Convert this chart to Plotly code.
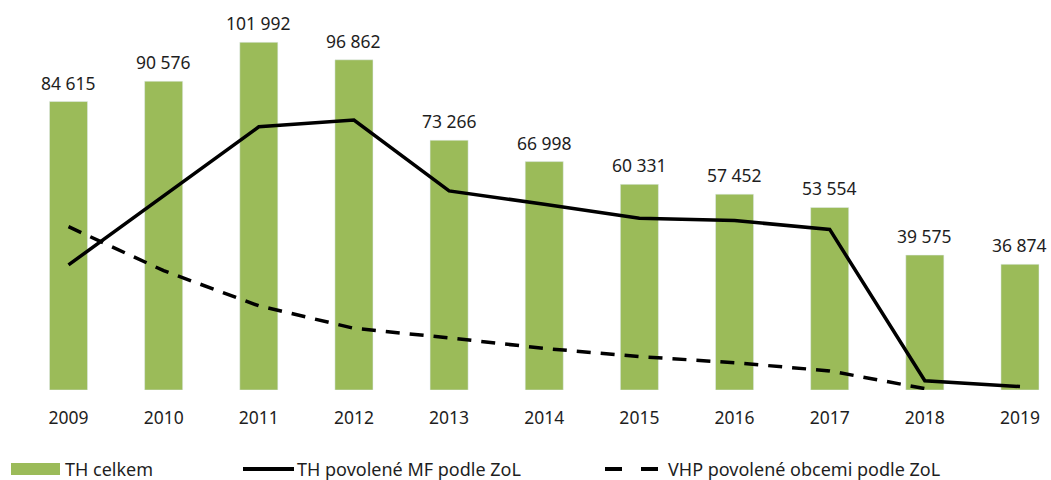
import plotly.graph_objects as go

years = ["2009", "2010", "2011", "2012", "2013", "2014", "2015", "2016", "2017", "2018", "2019"]
th_celkem = [84615, 90576, 101992, 96862, 73266, 66998, 60331, 57452, 53554, 39575, 36874]
th_mf = [36700, 56900, 77200, 79200, 58400, 54500, 50400, 49700, 47100, 2700, 1000]
vhp_obce = [47900, 35000, 24700, 18100, 15300, 12200, 9800, 8000, 5600, 400, None]

legend_names = ["TH celkem", "TH povolené MF podle ZoL", "VHP povolené obcemi podle ZoL"]

W, H = 1051, 480
MB = 90
PH = H - MB
FONT = "Noto Sans"
TXT = "#1e1e1e"
GREEN = "#9BBB59"

fig = go.Figure()
fig.add_trace(go.Bar(x=years, y=th_celkem, name=legend_names[0], marker_color=GREEN,
                     width=0.4, showlegend=False, hoverinfo="x+y"))
fig.add_trace(go.Scatter(x=years, y=th_mf, name=legend_names[1], mode="lines",
                         line=dict(color="black", width=3.5), showlegend=False))
fig.add_trace(go.Scatter(x=years, y=vhp_obce, name=legend_names[2], mode="lines",
                         line=dict(color="black", width=3.5, dash="14px,10px"), showlegend=False))

annotations = []
for i, v in enumerate(th_celkem):
    annotations.append(dict(x=i, y=v, xref="x", yref="y", text=f"{v:,}".replace(",", " "),
                            showarrow=False, yanchor="middle", yshift=19,
                            font=dict(family=FONT, size=17.5, color=TXT)))

def px(xp):
    return xp / W

def py(yp):
    return (PH - yp) / PH

shapes = [
    dict(type="rect", xref="paper", yref="paper", x0=px(11), x1=px(60), y0=py(475), y1=py(463),
         fillcolor=GREEN, line=dict(width=0)),
    dict(type="line", xref="paper", yref="paper", x0=px(243), x1=px(294), y0=py(469), y1=py(469),
         line=dict(color="black", width=4)),
    dict(type="line", xref="paper", yref="paper", x0=px(605), x1=px(660), y0=py(469), y1=py(469),
         line=dict(color="black", width=4, dash="17px,19px")),
]
for name, xl in zip(legend_names, [63, 295, 666]):
    annotations.append(dict(x=px(xl), y=py(469), xref="paper", yref="paper", text=name,
                            showarrow=False, xanchor="left", yanchor="middle",
                            font=dict(family=FONT, size=18, color=TXT)))

fig.update_layout(
    width=W, height=H,
    margin=dict(l=0, r=0, t=0, b=MB),
    paper_bgcolor="white", plot_bgcolor="white",
    font=dict(family=FONT, size=17, color=TXT),
    xaxis=dict(type="category", range=[-0.72, 10.326], showgrid=False, zeroline=False,
               showline=False, ticks="", tickfont=dict(family=FONT, size=17.5, color=TXT),
               ticklabelstandoff=15),
    yaxis=dict(range=[0, 114400], visible=False, showgrid=False, zeroline=False),
    annotations=annotations,
    shapes=shapes,
    showlegend=False,
)

fig.write_html("out.html", config={"displayModeBar": False},
               post_script="document.body.style.margin='0';")
